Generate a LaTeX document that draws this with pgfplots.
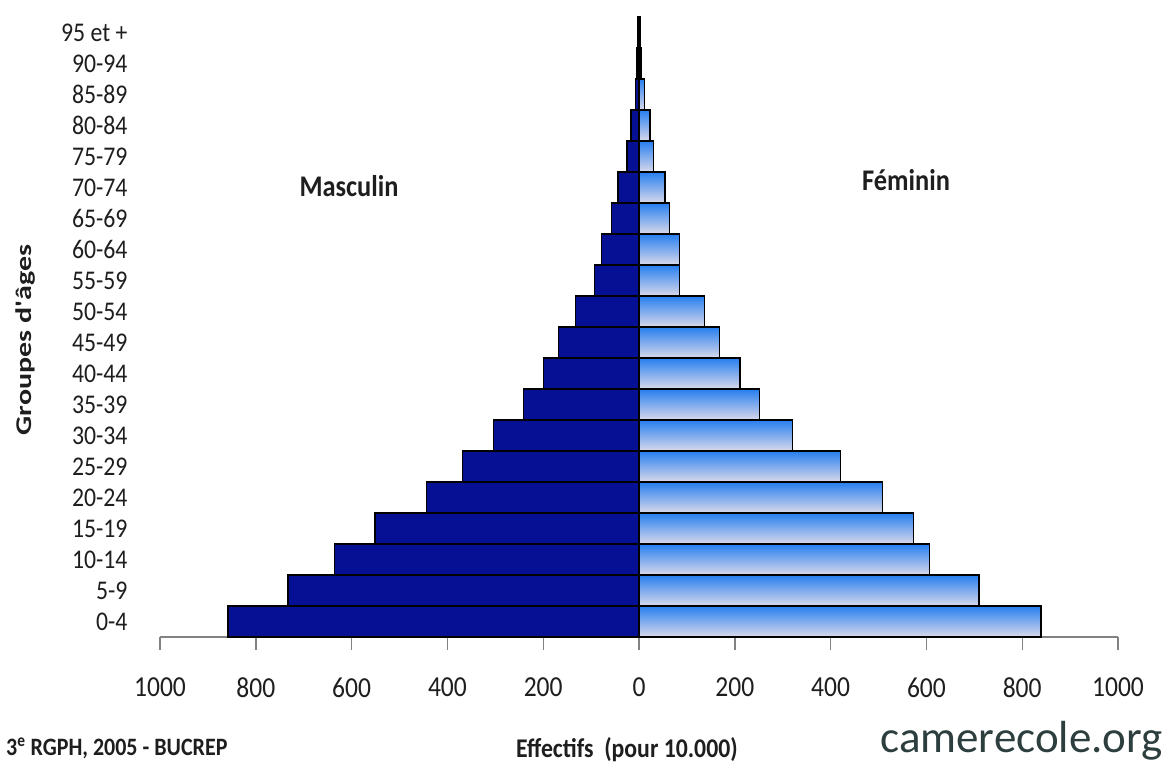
\documentclass[border=0pt]{standalone}
\usepackage{pgfplots}
\pgfplotsset{compat=1.18}
\usepackage{fontspec}
\setmainfont{Carlito}[FakeStretch=0.88]
\newfontfamily\camfont{Carlito}
\definecolor{male}{RGB}{6,16,148}
\definecolor{femtop}{RGB}{38,126,240}
\definecolor{fembot}{RGB}{218,218,234}
\definecolor{axgray}{RGB}{130,130,130}
\definecolor{camcol}{RGB}{45,62,62}
\definecolor{txt}{RGB}{30,30,30}
\pgfplotsset{fem/.style={xbar, bar width=31pt, bar shift=0pt, top color=femtop, bottom color=fembot, draw=black, line width=1.3pt, forget plot}}
\begin{document}
\begin{tikzpicture}
\useasboundingbox (0,0) rectangle (1168pt,765pt);
\begin{axis}[
  at={(160pt,128pt)}, anchor=south west,
  scale only axis, width=958pt, height=620pt,
  xmin=-1000, xmax=1000, ymin=-0.5, ymax=19.5,
  axis x line*=bottom, axis y line*=left,
  x axis line style={-, draw=axgray, line width=1.6pt},
  y axis line style={draw=none},
  xtick={-1000,-800,...,1000},
  xticklabels={1000,800,600,400,200,0,200,400,600,800,1000},
  ytick={0,...,19},
  yticklabels={0-4,5-9,10-14,15-19,20-24,25-29,30-34,35-39,40-44,45-49,50-54,55-59,60-64,65-69,70-74,75-79,80-84,85-89,90-94,95 et +},
  tick align=outside,
  xtick style={draw=axgray, line width=1.4pt},
  major tick length=13pt,
  ytick style={draw=none},
  /pgf/number format/assume math mode=true,
  xticklabel style={font=\fontsize{29}{29}\selectfont, text=txt, yshift=-24pt},
  yticklabel style={font=\fontsize{27}{27}\selectfont, text=txt, anchor=east, xshift=-16pt},
  clip=false,
]
\addplot[xbar, bar width=31pt, bar shift=0pt, fill=male, draw=black, line width=1.3pt] coordinates {
  (-858,0) (-733,1) (-636,2) (-551,3) (-443,4) (-369,5) (-304,6) (-241,7) (-200,8) (-168,9)
  (-133,10) (-93,11) (-78,12) (-57,13) (-44,14) (-25,15) (-17,16) (-7,17) (-4,18) (-3,19)
};
\addplot[fem] coordinates {(839,0)};
\addplot[fem] coordinates {(710,1)};
\addplot[fem] coordinates {(606,2)};
\addplot[fem] coordinates {(573,3)};
\addplot[fem] coordinates {(508,4)};
\addplot[fem] coordinates {(420,5)};
\addplot[fem] coordinates {(321,6)};
\addplot[fem] coordinates {(251,7)};
\addplot[fem] coordinates {(211,8)};
\addplot[fem] coordinates {(168,9)};
\addplot[fem] coordinates {(137,10)};
\addplot[fem] coordinates {(84,11)};
\addplot[fem] coordinates {(84,12)};
\addplot[fem] coordinates {(63,13)};
\addplot[fem] coordinates {(54,14)};
\addplot[fem] coordinates {(30,15)};
\addplot[fem] coordinates {(23,16)};
\addplot[fem] coordinates {(12,17)};
\addplot[fem] coordinates {(4,18)};
\addplot[fem] coordinates {(3,19)};
\end{axis}
\node[font=\bfseries\fontsize{30}{30}\selectfont, text=txt] at (349pt,579pt) {Masculin};
\node[font=\bfseries\fontsize{30}{30}\selectfont, text=txt] at (906pt,585pt) {Féminin};
\node[rotate=90, font=\bfseries\fontsize{30}{30}\selectfont, text=txt] at (26pt,425pt) {\scalebox{1}[0.75]{\camfont\bfseries Groupes d'âges}};
\node[anchor=west, font=\bfseries\fontsize{25}{25}\selectfont, text=txt, inner sep=0pt] at (6pt,17pt) {3\textsuperscript{e} RGPH, 2005 - BUCREP};
\node[font=\bfseries\fontsize{27}{27}\selectfont, text=txt, inner sep=0pt] at (627pt,15pt) {Effectifs\ \ (pour 10.000)};
\node[anchor=east, font=\camfont\fontsize{45}{45}\selectfont, text=camcol, inner sep=0pt] at (1163pt,24pt) {camerecole.org};
\end{tikzpicture}
\end{document}
